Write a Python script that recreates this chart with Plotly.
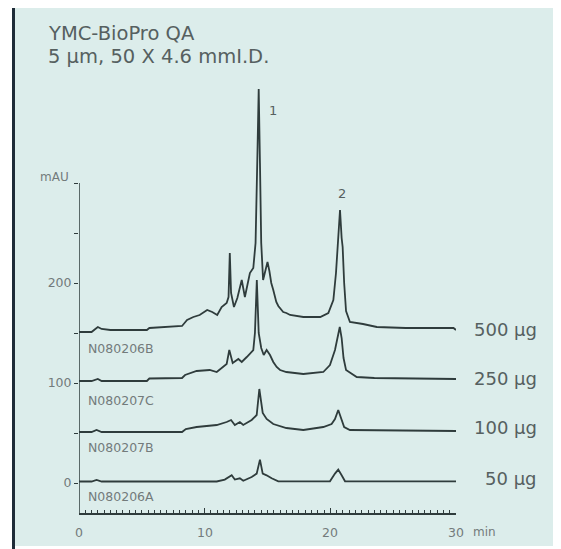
import plotly.graph_objects as go

# ---- data (time in min, absorbance in mAU) ----
t_500 = [0, 1.0, 1.3, 1.5, 1.8, 2.5, 4.0, 5.4, 5.6, 7.5, 8.2, 8.6, 9.1, 9.6, 10.2, 10.6, 11.0, 11.35,
         11.75, 11.9, 12.0, 12.1, 12.33, 12.6, 12.95, 13.2, 13.6, 13.87, 14.05, 14.2, 14.3, 14.4, 14.5,
         14.65, 14.85, 15.0, 15.15, 15.3, 15.46, 15.7, 15.86, 16.25, 16.5, 16.8, 17.85, 19.2, 19.84,
         20.24, 20.45, 20.63, 20.77, 20.9, 20.98, 21.1, 21.25, 21.56, 22.6, 23.7, 26.0, 29.8, 30.0]
v_500 = [151, 151, 154, 156, 154, 153, 153, 153, 155, 156, 157, 163, 166, 168, 173, 171, 168, 176,
         180, 186, 230, 190, 176, 185, 203, 186, 210, 215, 240, 330, 394, 320, 240,
         203, 212, 221, 212, 200, 193, 181, 177, 171, 170, 168, 166, 166, 170,
         183, 210, 240, 273, 245, 236, 200, 172, 161, 159, 156, 155, 155, 153]

t_250 = [0, 1.0, 1.5, 1.8, 5.4, 5.6, 8.2, 8.44, 9.36, 10.4, 10.96, 11.35, 11.75, 11.96, 12.23, 12.68,
         12.95, 13.35, 13.87, 14.0, 14.15, 14.3, 14.5, 14.7, 14.93, 15.2, 15.46, 15.73, 16.0, 16.5,
         17.85, 19.44, 19.97, 20.37, 20.63, 20.75, 20.9, 21.05, 21.25, 22.1, 23.5, 30.0]
v_250 = [102, 102, 104, 102, 102, 104.5, 105, 108, 112, 113, 111, 115, 119, 133, 120, 124,
         121, 126, 133, 150, 203, 150, 135, 128, 133, 128, 121, 116, 113, 111,
         109, 111, 118, 133, 151, 156, 145, 125, 113, 106, 105, 104]

t_100 = [0, 1.0, 1.4, 1.8, 8.2, 8.5, 9.36, 10.96, 11.75, 12.1, 12.4, 12.8, 13.07, 13.74, 14.14,
         14.35, 14.62, 14.93, 15.46, 16.26, 16.5, 17.85, 19.44, 20.1, 20.37, 20.63, 20.85, 21.1,
         21.56, 30.0]
v_100 = [51, 51, 53, 51, 51, 54, 56, 58, 61, 63, 58, 61, 58, 63, 68,
         94, 70, 64, 59, 56, 55, 53, 56, 59, 64, 73, 64, 56,
         53, 52]

t_50 = [0, 1.0, 1.4, 1.8, 10.96, 11.6, 12.15, 12.4, 12.8, 13.07, 13.74, 14.14, 14.4, 14.62, 14.93,
        15.33, 15.86, 19.97, 20.37, 20.63, 20.9, 21.17, 30.0]
v_50 = [1.5, 1.5, 3, 1.5, 1.5, 3.4, 7.7, 3.4, 4.7, 2.3, 6, 9.4, 23.4, 9.4, 7.7,
        4.7, 1.7, 1.7, 9.4, 13.4, 7.7, 1.7, 1.7]

amount_labels = ["500 \u03bcg", "250 \u03bcg", "100 \u03bcg", "50 \u03bcg"]
sample_labels = ["N080206B", "N080207C", "N080207B", "N080206A"]
peak_labels = ["1", "2"]
peak_label_pos = [(15.4, 373), (20.9, 290)]
y_tickvals = [0, 50, 100, 150, 200, 250, 300]
y_ticktext = ["0", "", "100", "", "200", "", ""]
x_tickvals = [0, 10, 20, 30]
x_ticktext = ["0", "10", "20", "30"]

series = [(t_500, v_500), (t_250, v_250), (t_100, v_100), (t_50, v_50)]

# ---- geometry: page body has an 8px margin, so the figure is 8px smaller ----
OFF = 8
W, H = 561 - OFF, 549 - OFF
L, R, T, B = 79 - OFF, 105, 83 - OFF, 36
PW, PH = W - L - R, H - T - B


def px(x):  # reference-image pixel -> paper
    return (x - OFF - L) / PW


def py(y):
    return (H - B - (y - OFF)) / PH


LINE = "#2f3c3c"
TEXT = "#737b7b"
DARKTEXT = "#566060"
BG = "#dcedeb"
FONT = "DejaVu Sans"

fig = go.Figure()
for (t, v) in series:
    fig.add_trace(go.Scatter(x=t, y=v, mode="lines",
                             line=dict(color=LINE, width=1.8), hoverinfo="skip",
                             showlegend=False))

annotations = []
annotations.append(dict(x=px(46), y=py(33), xref="paper", yref="paper", text="YMC-BioPro QA",
                        showarrow=False, xanchor="left", yanchor="middle",
                        font=dict(family=FONT, size=19.5, color=DARKTEXT)))
annotations.append(dict(x=px(46), y=py(56), xref="paper", yref="paper",
                        text="5 \u03bcm, 50 X 4.6 mmI.D.",
                        showarrow=False, xanchor="left", yanchor="middle",
                        font=dict(family=FONT, size=19.5, color=DARKTEXT)))
annotations.append(dict(x=px(71), y=py(177), xref="paper", yref="paper", text="mAU",
                        showarrow=False, xanchor="right", yanchor="middle",
                        font=dict(family=FONT, size=12, color=TEXT)))
annotations.append(dict(x=px(471), y=py(532), xref="paper", yref="paper", text="min",
                        showarrow=False, xanchor="left", yanchor="middle",
                        font=dict(family=FONT, size=12, color=TEXT)))
# x-axis tick labels placed as text (keeps the plot area fixed)
for val, lab in zip(x_tickvals, x_ticktext):
    annotations.append(dict(x=val, y=py(532), xref="x", yref="paper", text=lab,
                            showarrow=False, xanchor="center", yanchor="middle",
                            font=dict(family=FONT, size=12.5, color=TEXT)))
amount_y = [329, 378, 427, 478]
for lab, yy in zip(amount_labels, amount_y):
    annotations.append(dict(x=px(539), y=py(yy), xref="paper", yref="paper", text=lab,
                            showarrow=False, xanchor="right", yanchor="middle",
                            font=dict(family=FONT, size=18, color=DARKTEXT)))
sample_y = [348, 400, 447, 496]
for lab, yy in zip(sample_labels, sample_y):
    annotations.append(dict(x=px(86), y=py(yy), xref="paper", yref="paper", text=lab,
                            showarrow=False, xanchor="left", yanchor="middle",
                            font=dict(family=FONT, size=12.5, color=TEXT)))
for lab, (xx, yy) in zip(peak_labels, peak_label_pos):
    annotations.append(dict(x=xx, y=yy, xref="x", yref="y", text=lab, showarrow=False,
                            font=dict(family=FONT, size=13, color=DARKTEXT)))

shapes = [
    dict(type="rect", xref="paper", yref="paper", x0=px(12), x1=px(556), y0=py(546), y1=py(5),
         fillcolor=BG, line=dict(width=0), layer="below"),
    dict(type="line", xref="paper", yref="paper", x0=px(13.5), x1=px(13.5), y0=py(549), y1=py(5),
         line=dict(color="#1f2c38", width=3)),
    dict(type="line", xref="paper", yref="paper", x0=px(12), x1=px(556), y0=py(6), y1=py(6),
         line=dict(color="#1f2c38", width=2.5)),
    dict(type="line", xref="x", yref="y", x0=0, x1=0, y0=-30, y1=300,
         line=dict(color=LINE, width=1.5)),
]

fig.update_layout(
    width=W, height=H,
    margin=dict(l=L, r=R, t=T, b=B, pad=0, autoexpand=False),
    paper_bgcolor="white", plot_bgcolor="rgba(0,0,0,0)",
    showlegend=False,
    annotations=annotations,
    shapes=shapes,
    xaxis=dict(range=[0, 30], showgrid=False, zeroline=False, showline=True,
               linecolor=LINE, linewidth=1.5, tickvals=x_tickvals, showticklabels=False,
               ticks="inside", ticklen=5, tickwidth=1.2, tickcolor=LINE, automargin=False,
               minor=dict(dtick=0.5, ticks="inside", ticklen=3, tickcolor=LINE, tickwidth=1),
               fixedrange=True),
    yaxis=dict(range=[-30, 400], showgrid=False, zeroline=False, showline=False,
               tickvals=y_tickvals, ticktext=y_ticktext, ticks="outside", ticklen=4,
               tickwidth=1.2, tickcolor=LINE, automargin=False,
               tickfont=dict(family=FONT, size=12.5, color=TEXT), fixedrange=True),
)

fig.write_html("out.html")
